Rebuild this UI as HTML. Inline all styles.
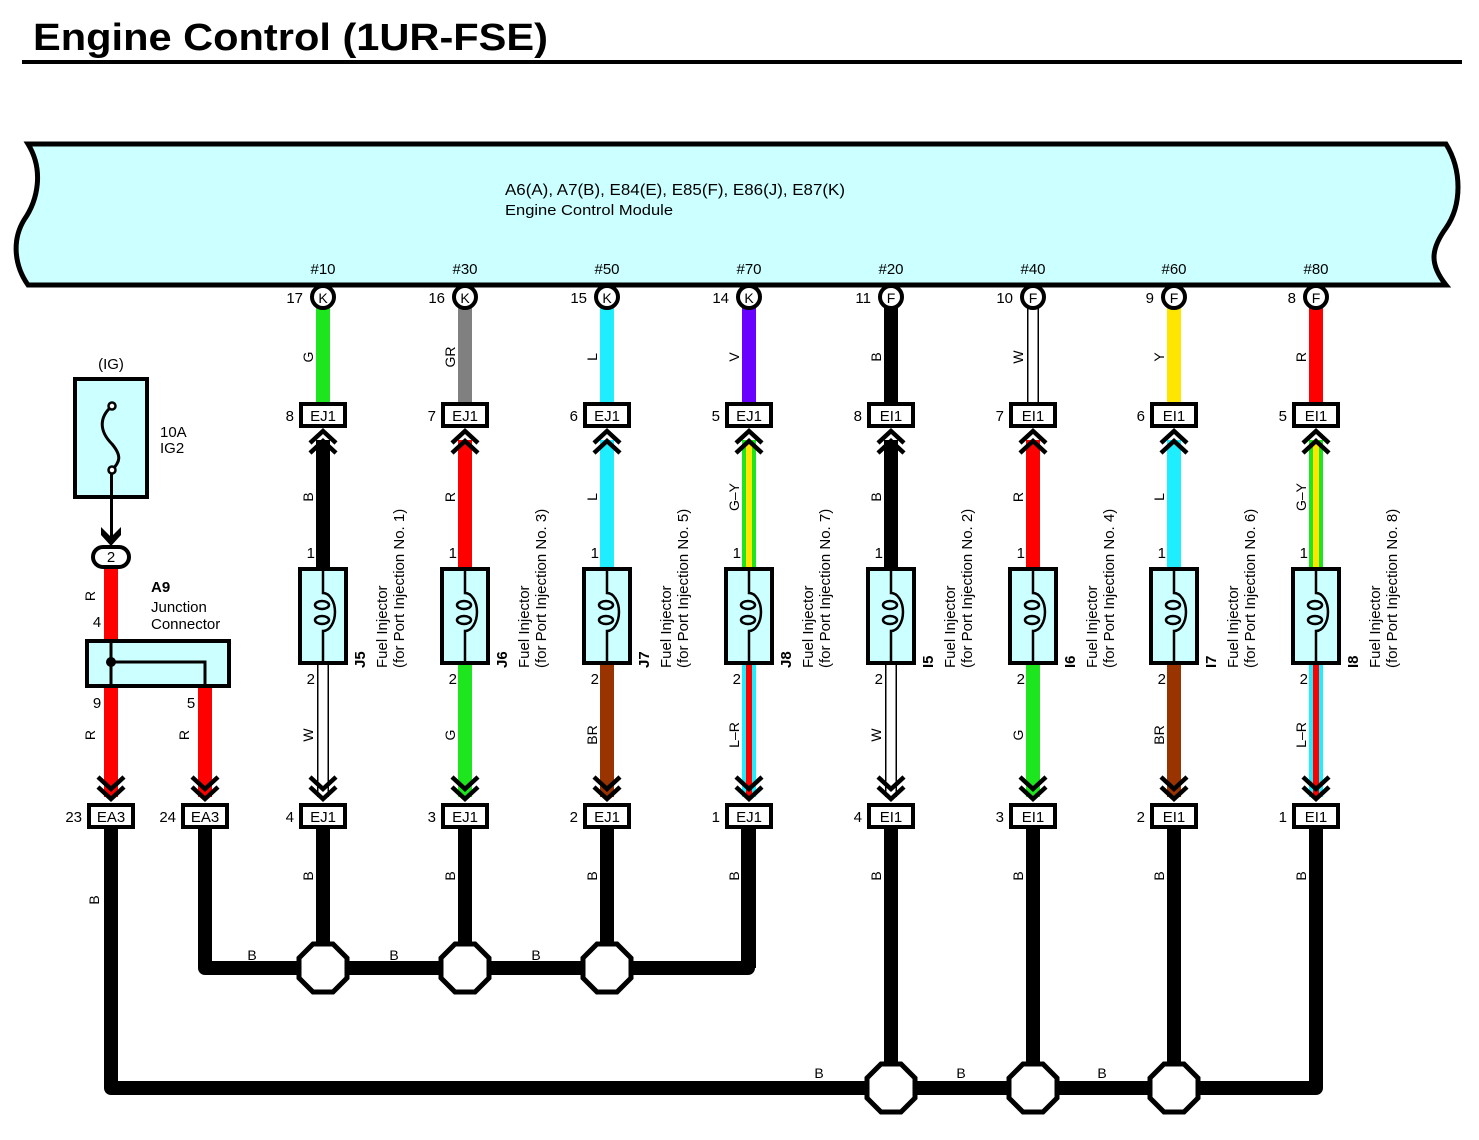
<!DOCTYPE html>
<html><head><meta charset="utf-8"><style>
html,body{margin:0;padding:0;background:#fff;}
svg{display:block;font-family:"Liberation Sans",Arial,sans-serif;}
</style></head><body>
<svg id="s" width="1479" height="1140" viewBox="0 0 1479 1140" xmlns="http://www.w3.org/2000/svg">
<rect width="1479" height="1140" fill="#fff"/>
<text x="33" y="50" font-size="38" font-weight="bold" textLength="515" lengthAdjust="spacingAndGlyphs">Engine Control (1UR-FSE)</text>
<rect x="22" y="60" width="1440" height="4" fill="#000"/>
<path d="M28,144 L1446,144 C1462,170 1462,205 1446,228 C1430,250 1430,265 1446,285 L28,285 C14,265 12,240 24,220 C38,200 44,170 28,144 Z" fill="#ccffff" stroke="#000" stroke-width="5"/>
<text x="505" y="195" font-size="16" textLength="340" lengthAdjust="spacingAndGlyphs">A6(A), A7(B), E84(E), E85(F), E86(J), E87(K)</text>
<text x="505" y="215" font-size="15" textLength="168" lengthAdjust="spacingAndGlyphs">Engine Control Module</text>
<g id="g"></g>
</svg>
<script>
var out='';
function wire(x,y1,y2,c){
 if(c=='W'){return '<rect x="'+(x-6)+'" y="'+y1+'" width="12" height="'+(y2-y1)+'" fill="#000"/><rect x="'+(x-4.5)+'" y="'+y1+'" width="9" height="'+(y2-y1)+'" fill="#fff"/>';}
 var col={G:'#1ee61e',GR:'#808080',L:'#1eeeff',V:'#6a00ff',B:'#000',Y:'#ffe600',R:'#ff0000',BR:'#993300','G-Y':'#1ee61e','L-R':'#1eeeff'}[c];
 var s='<rect x="'+(x-7)+'" y="'+y1+'" width="14" height="'+(y2-y1)+'" fill="'+col+'"/>';
 if(c=='G-Y')s+='<rect x="'+(x-3)+'" y="'+y1+'" width="6" height="'+(y2-y1)+'" fill="#ffe600"/>';
 if(c=='L-R')s+='<rect x="'+(x-3)+'" y="'+y1+'" width="6" height="'+(y2-y1)+'" fill="#ff0000"/>';
 return s;
}
function rtext(x,y,t,sz,bold,anchor){
 return '<text transform="translate('+x+','+y+') rotate(-90)" font-size="'+(sz||14)+'"'+(bold?' font-weight="bold"':'')+(anchor?' text-anchor="'+anchor+'"':'')+'>'+t+'</text>';
}
function lbl(x,y,t){return rtext(x+5,y,t,14,false,'middle');}
function box(x,y,t,pin){
 var s='<rect x="'+(x-22)+'" y="'+y+'" width="44" height="22" fill="#fff" stroke="#000" stroke-width="4"/>';
 s+='<text x="'+x+'" y="'+(y+17)+'" font-size="15" text-anchor="middle">'+t+'</text>';
 if(pin!==undefined)s+='<text x="'+(x-29)+'" y="'+(y+17)+'" font-size="15" text-anchor="end">'+pin+'</text>';
 return s;
}
function chevUp(x,y){return '<polyline points="'+(x-13)+','+(y+9)+' '+x+','+(y-3)+' '+(x+13)+','+(y+9)+'" fill="none" stroke="#000" stroke-width="4.5"/>'+'<polyline points="'+(x-13)+','+(y+19)+' '+x+','+(y+7)+' '+(x+13)+','+(y+19)+'" fill="none" stroke="#000" stroke-width="4.5"/>';}
function chevDn(x,y){return '<polyline points="'+(x-13)+','+(y-9)+' '+x+','+(y+3)+' '+(x+13)+','+(y-9)+'" fill="none" stroke="#000" stroke-width="4.5"/>'+'<polyline points="'+(x-13)+','+(y-19)+' '+x+','+(y-7)+' '+(x+13)+','+(y-19)+'" fill="none" stroke="#000" stroke-width="4.5"/>';}
function oct(x,y){var r=24,a=10;return '<polygon points="'+(x-a)+','+(y-r)+' '+(x+a)+','+(y-r)+' '+(x+r)+','+(y-a)+' '+(x+r)+','+(y+a)+' '+(x+a)+','+(y+r)+' '+(x-a)+','+(y+r)+' '+(x-r)+','+(y+a)+' '+(x-r)+','+(y-a)+'" fill="#fff" stroke="#000" stroke-width="5"/>';}
var cols=[
['#10','17','K','G','EJ1','8','B','J5','1','W','4'],
['#30','16','K','GR','EJ1','7','R','J6','3','G','3'],
['#50','15','K','L','EJ1','6','L','J7','5','BR','2'],
['#70','14','K','V','EJ1','5','G-Y','J8','7','L-R','1'],
['#20','11','F','B','EI1','8','B','I5','2','W','4'],
['#40','10','F','W','EI1','7','R','I6','4','G','3'],
['#60','9','F','Y','EI1','6','L','I7','6','BR','2'],
['#80','8','F','R','EI1','5','G-Y','I8','8','L-R','1']];
out+='<path d="M205,828 V968 H748 V828" fill="none" stroke="#000" stroke-width="14" stroke-linejoin="round"/>';
out+='<path d="M111,828 V1088 H1316 V828" fill="none" stroke="#000" stroke-width="14" stroke-linejoin="round"/>';
out+='<text x="252" y="960" font-size="14" text-anchor="middle">B</text><text x="394" y="960" font-size="14" text-anchor="middle">B</text><text x="536" y="960" font-size="14" text-anchor="middle">B</text>';
out+='<text x="819" y="1078" font-size="14" text-anchor="middle">B</text><text x="961" y="1078" font-size="14" text-anchor="middle">B</text><text x="1102" y="1078" font-size="14" text-anchor="middle">B</text>';
out+=lbl(94,900,'B');
cols.forEach(function(c,i){
 var x=Math.round(323+i*141.9);
 var by=i<4?968:1088;
 out+='<text x="'+x+'" y="274" font-size="15" text-anchor="middle">'+c[0]+'</text>';
 out+=wire(x,306,405,c[3]);
 out+=lbl(x-15,357,c[3].replace('-','–'));
 out+='<circle cx="'+x+'" cy="297" r="11" fill="#fff" stroke="#000" stroke-width="4"/>';
 out+='<text x="'+x+'" y="303" font-size="14" text-anchor="middle">'+c[2]+'</text>';
 out+='<text x="'+(x-20)+'" y="303" font-size="15" text-anchor="end">'+c[1]+'</text>';
 out+=wire(x,440,568,c[6]);
 out+=lbl(x-15,497,c[6].replace('-','–'));
 out+=chevUp(x,434);
 out+=box(x,404,c[4],c[5]);
 out+=wire(x,663,797,c[9]);
 out+='<text x="'+(x-8)+'" y="558" font-size="15" text-anchor="end">1</text>';
 out+='<text x="'+(x-8)+'" y="684" font-size="15" text-anchor="end">2</text>';
 out+=lbl(x-15,735,c[9].replace('-','–'));
 out+=chevDn(x,796);
 out+=box(x,805,c[4],c[10]);
 out+='<rect x="'+(x-7)+'" y="829" width="14" height="'+(by-829)+'" fill="#000"/>';
 out+=lbl(x-15,876,'B');
 out+='<rect x="'+(x-23)+'" y="569" width="46" height="94" fill="#ccffff" stroke="#000" stroke-width="4"/>';
 out+='<path d="M'+x+',569 V593 A12,19 0 0 1 '+x+',631 V663" fill="none" stroke="#000" stroke-width="2.5"/>';
 out+='<ellipse cx="'+(x-1)+'" cy="605" rx="7" ry="4" fill="none" stroke="#000" stroke-width="2.5"/>';
 out+='<ellipse cx="'+(x-1)+'" cy="620" rx="7" ry="4" fill="none" stroke="#000" stroke-width="2.5"/>';
 out+=rtext(x+42,668,c[7],15,true);
 out+=rtext(x+64,668,'Fuel Injector',15,false);
 out+=rtext(x+81,668,'(for Port Injection No. '+c[8]+')',15,false);
 if(!(i==3||i==7)) out+=oct(x,by);
});
out+='<text x="111" y="369" font-size="15" text-anchor="middle">(IG)</text>';
out+='<rect x="75" y="379" width="72" height="118" fill="#ccffff" stroke="#000" stroke-width="4"/>';
out+='<path d="M112,406 C98,418 100,432 112,444 C122,456 120,462 112,470" fill="none" stroke="#000" stroke-width="3"/>';
out+='<circle cx="112" cy="406" r="3.5" fill="#fff" stroke="#000" stroke-width="2.5"/><circle cx="112" cy="470" r="3.5" fill="#fff" stroke="#000" stroke-width="2.5"/>';
out+='<text x="160" y="437" font-size="15">10A</text><text x="160" y="453" font-size="15">IG2</text>';
out+='<rect x="110" y="473" width="3" height="70" fill="#000"/>';
out+='<polygon points="101,527 111,537 121,527 121,535 111,546 101,535" fill="#000"/>';
out+='<rect x="93" y="547" width="36" height="20" rx="10" fill="#fff" stroke="#000" stroke-width="4"/>';
out+='<text x="111" y="562" font-size="15" text-anchor="middle">2</text>';
out+=wire(111,569,641,'R');
out+=lbl(90,596,'R');
out+='<text x="97" y="627" font-size="15" text-anchor="middle">4</text>';
out+='<text x="151" y="592" font-size="15" font-weight="bold">A9</text>';
out+='<text x="151" y="612" font-size="15">Junction</text><text x="151" y="629" font-size="15">Connector</text>';
out+=wire(111,687,797,'R');out+=wire(205,687,797,'R');
out+='<rect x="87" y="641" width="142" height="45" fill="#ccffff" stroke="#000" stroke-width="4"/>';
out+='<path d="M111,641 V686 M111,662 H205 V686" fill="none" stroke="#000" stroke-width="3"/>';
out+='<circle cx="111" cy="662" r="5" fill="#000"/>';
out+='<text x="97" y="708" font-size="15" text-anchor="middle">9</text><text x="191" y="708" font-size="15" text-anchor="middle">5</text>';
out+=lbl(90,735,'R');out+=lbl(184,735,'R');
out+=chevDn(111,796);out+=chevDn(205,796);
out+=box(111,805,'EA3','23');out+=box(205,805,'EA3','24');
document.getElementById('g').innerHTML=out;
</script>
</body></html>
